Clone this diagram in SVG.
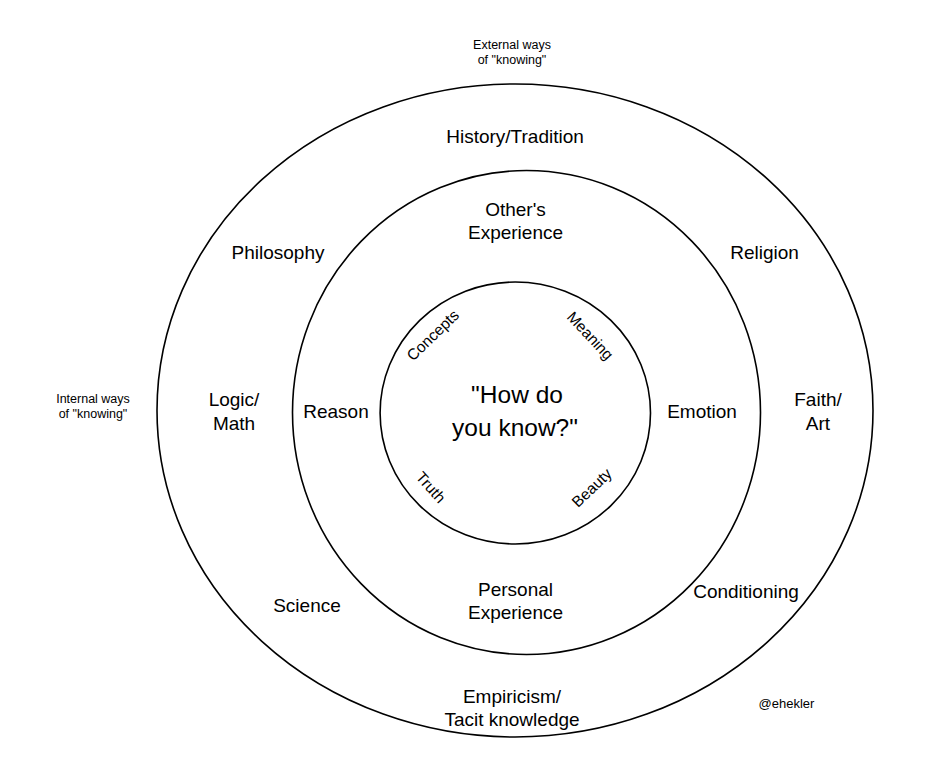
<svg xmlns="http://www.w3.org/2000/svg" width="936" height="768" viewBox="0 0 936 768">
<style>
.ring{fill:none;stroke:#000;stroke-width:1.6}
text{font-family:"Liberation Sans",Arial,sans-serif;fill:#000;text-anchor:middle}
.l{font-size:19px}
.s{font-size:12.5px}
.r{font-size:15.5px}
.big{font-size:24.5px}
</style>
<rect width="936" height="768" fill="#fff"/>
<g id="connectors"></g>
<g id="outer-ring"><ellipse class="ring" cx="515" cy="410.5" rx="358" ry="326.5"/></g>
<g id="middle-ring"><ellipse class="ring" cx="526.5" cy="412.5" rx="234" ry="242"/></g>
<g id="inner-ring"><ellipse class="ring" cx="515.3" cy="413" rx="135.2" ry="131"/></g>
<g id="external-label"><text class="s" x="512" y="49">External ways</text><text class="s" x="512" y="64">of "knowing"</text></g>
<g id="internal-label"><text class="s" x="93" y="403">Internal ways</text><text class="s" x="93" y="418">of "knowing"</text></g>
<g id="history"><text class="l" x="515" y="143">History/Tradition</text></g>
<g id="philosophy"><text class="l" x="278" y="259">Philosophy</text></g>
<g id="religion"><text class="l" x="764.5" y="259">Religion</text></g>
<g id="logic"><text class="l" x="234" y="406">Logic/</text><text class="l" x="234" y="430">Math</text></g>
<g id="faith"><text class="l" x="818" y="406">Faith/</text><text class="l" x="818" y="430">Art</text></g>
<g id="science"><text class="l" x="307" y="612">Science</text></g>
<g id="conditioning"><text class="l" x="746" y="598">Conditioning</text></g>
<g id="empiricism"><text class="l" x="512" y="703">Empiricism/</text><text class="l" x="512" y="726">Tacit knowledge</text></g>
<g id="others"><text class="l" x="515.5" y="216">Other's</text><text class="l" x="515.5" y="239">Experience</text></g>
<g id="reason"><text class="l" x="336" y="418">Reason</text></g>
<g id="emotion"><text class="l" x="702" y="418">Emotion</text></g>
<g id="personal"><text class="l" x="515.5" y="596">Personal</text><text class="l" x="515.5" y="619">Experience</text></g>
<g id="center"><text class="big" x="517" y="403">"How do</text><text class="big" x="515" y="436">you know?"</text></g>
<g id="concepts"><text class="r" transform="translate(433,335.5) rotate(-44)" x="0" y="5">Concepts</text></g>
<g id="meaning"><text class="r" transform="translate(590,336) rotate(47)" x="0" y="5">Meaning</text></g>
<g id="truth"><text class="r" transform="translate(430.5,487.5) rotate(48)" x="0" y="5">Truth</text></g>
<g id="beauty"><text class="r" transform="translate(592,488) rotate(-44)" x="0" y="5">Beauty</text></g>
<g id="credit"><text x="786.5" y="708" style="font-size:13px">@ehekler</text></g>
</svg>
